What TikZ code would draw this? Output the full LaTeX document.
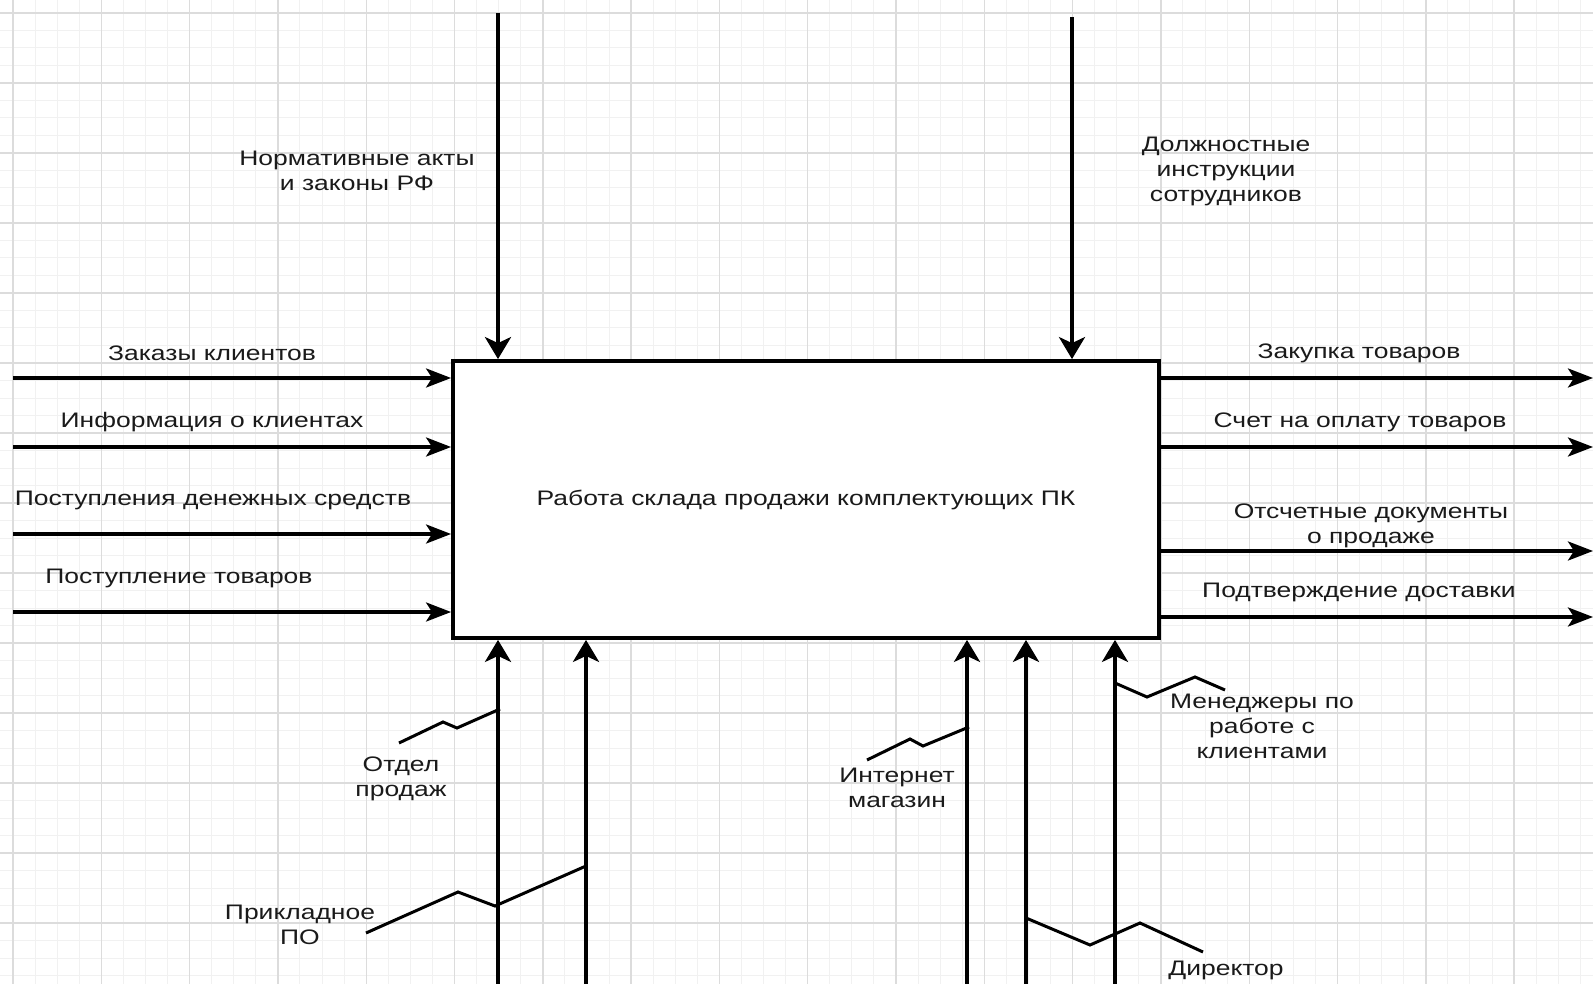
\documentclass[tikz,border=0pt]{standalone}
\usepackage{fontspec}
\setmainfont[FakeStretch=1.26]{Liberation Sans}
\usetikzlibrary{arrows.meta}
\definecolor{gridminor}{HTML}{F1F1F1}
\definecolor{gridmajor}{HTML}{DCDCDC}
\definecolor{txt}{HTML}{1A1A1A}
\begin{document}
\begin{tikzpicture}[x=1pt,y=-1pt,
  lbl/.style={font=\fontsize{21}{25}\selectfont, align=center, inner sep=0pt, text=txt},
  hflow/.style={line width=3.5pt, -{Stealth[length=25pt,width=19pt,inset=6pt]}},
  vflow/.style={line width=4.2pt, -{Stealth[length=22pt,width=26pt,inset=6pt]}},
  squig/.style={line width=3pt, line join=miter},
  minorline/.style={gridminor, line width=1pt},
  majorline/.style={gridmajor, line width=1.4pt}]
\useasboundingbox (0,0) rectangle (1593,984);
\fill[white] (0,0) rectangle (1593,984);
% grid
\foreach \i in {-1,...,72} \draw[minorline] ({13+22.075*\i},0) -- ({13+22.075*\i},984);
\foreach \i in {-1,...,56} \draw[minorline] (0,{13+17.5*\i}) -- (1593,{13+17.5*\i});
\foreach \i in {0,...,18} \draw[majorline] ({13+88.3*\i},0) -- ({13+88.3*\i},984);
\foreach \i in {0,...,14} \draw[majorline] (0,{13+70*\i}) -- (1593,{13+70*\i});

% main box
\node[draw, line width=3.8pt, fill=white, minimum width=706pt, minimum height=277pt, inner sep=0pt] (box) at (806,499.5) {};
\node[lbl] (title) at (806,500) {Работа склада продажи комплектующих ПК};

% inputs
\coordinate (i1) at (13,378);
\coordinate (i2) at (13,447);
\coordinate (i3) at (13,534);
\coordinate (i4) at (13,612);
\draw[hflow] (i1) -- (i1 -| box.west);
\draw[hflow] (i2) -- (i2 -| box.west);
\draw[hflow] (i3) -- (i3 -| box.west);
\draw[hflow] (i4) -- (i4 -| box.west);
\node[lbl] (li1) at (212,353) {Заказы клиентов};
\node[lbl] (li2) at (212,422) {Информация о клиентах};
\node[lbl] (li3) at (213,500) {Поступления денежных средств};
\node[lbl] (li4) at (179,578) {Поступление товаров};

% controls
\coordinate (c1) at (498,13);
\coordinate (c2) at (1072,17);
\draw[vflow] (c1) -- (c1 |- box.north);
\draw[vflow] (c2) -- (c2 |- box.north);
\node[lbl] (lc1) at (357,171) {Нормативные акты\\и законы РФ};
\node[lbl] (lc2) at (1226,171) {Должностные\\инструкции\\сотрудников};

% outputs
\coordinate (o1) at (1593,378);
\coordinate (o2) at (1593,447);
\coordinate (o3) at (1593,551);
\coordinate (o4) at (1593,617);
\draw[hflow] (o1 -| box.east) -- (o1);
\draw[hflow] (o2 -| box.east) -- (o2);
\draw[hflow] (o3 -| box.east) -- (o3);
\draw[hflow] (o4 -| box.east) -- (o4);
\node[lbl] (lo1) at (1359,353) {Закупка товаров};
\node[lbl] (lo2) at (1360,422) {Счет на оплату товаров};
\node[lbl] (lo3) at (1371,526) {Отсчетные документы\\о продаже};
\node[lbl] (lo4) at (1359,592) {Подтверждение доставки};

% mechanisms
\coordinate (m1) at (498,984);
\coordinate (m2) at (586,984);
\coordinate (m3) at (967,984);
\coordinate (m4) at (1026,984);
\coordinate (m5) at (1115,984);
\draw[vflow] (m1) -- (m1 |- box.south);
\draw[vflow] (m2) -- (m2 |- box.south);
\draw[vflow] (m3) -- (m3 |- box.south);
\draw[vflow] (m4) -- (m4 |- box.south);
\draw[vflow] (m5) -- (m5 |- box.south);

\node[lbl] (lm1) at (401,779) {Отдел\\продаж};
\node[lbl] (lm2) at (300,925) {Прикладное\\ПО};
\node[lbl] (lm3) at (897,788) {Интернет\\магазин};
\node[lbl] (lm4) at (1262,726) {Менеджеры по\\работе с\\клиентами};
\node[lbl] (lm5) at (1226,970) {Директор};

% squiggle label leaders
\coordinate (s1) at (399,743);
\coordinate (e1) at (500,709);
\draw[squig] (s1) -- (443,722) -- (457,728) -- (e1);
\coordinate (s2) at (366,933);
\coordinate (e2) at (586,866);
\draw[squig] (s2) -- (458,892) -- (495,906) -- (e2);
\coordinate (s3) at (867,760);
\coordinate (e3) at (969,727);
\draw[squig] (s3) -- (910,739) -- (923,746) -- (e3);
\coordinate (s4) at (1225,690);
\coordinate (e4) at (1115,683);
\draw[squig] (e4) -- (1147,697) -- (1195,677) -- (s4);
\coordinate (s5) at (1203,952);
\coordinate (e5) at (1026,918);
\draw[squig] (e5) -- (1090,945) -- (1140,923) -- (s5);
\end{tikzpicture}
\end{document}
